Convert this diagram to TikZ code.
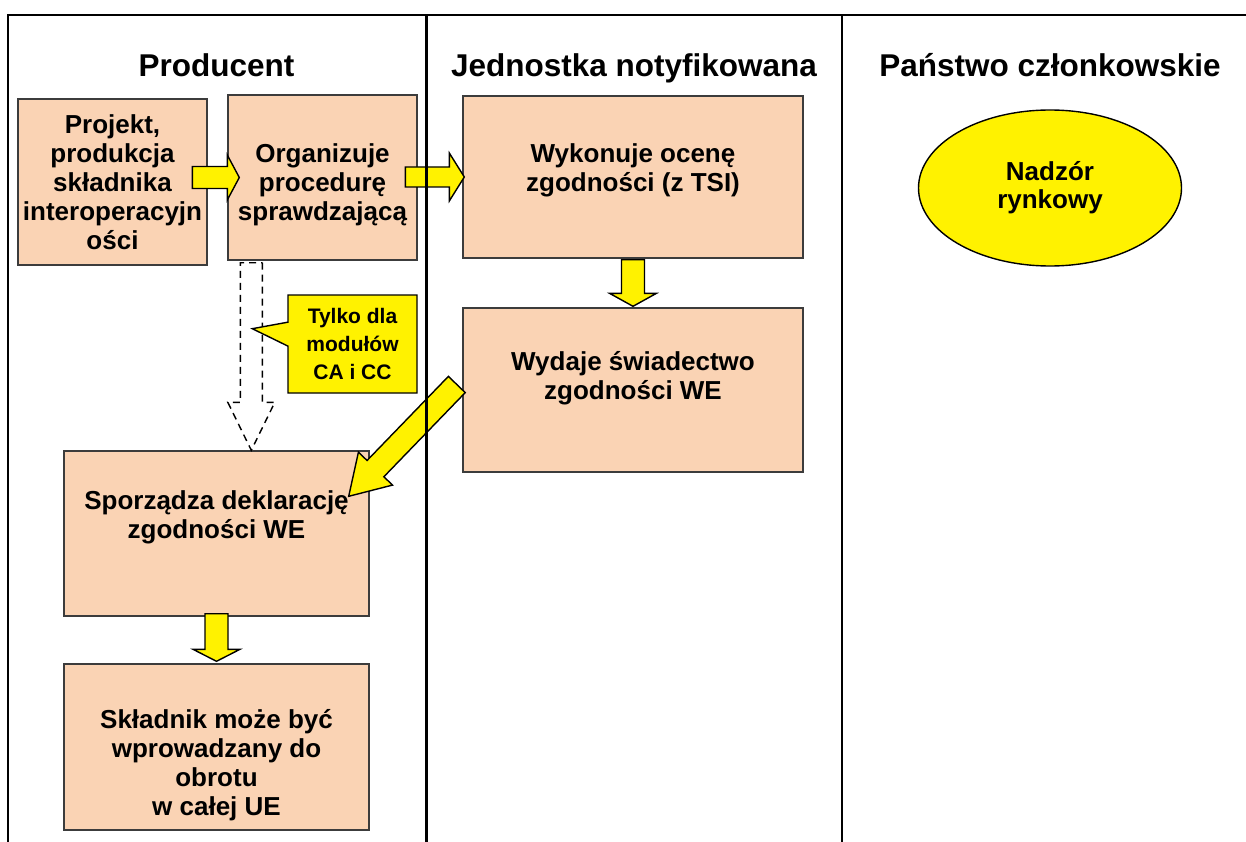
\documentclass[tikz,border=0pt]{standalone}
\usepackage{fontspec}
\setmainfont{Liberation Sans}
\usetikzlibrary{calc,shapes.geometric,shapes.callouts}
\definecolor{peach}{RGB}{250,211,180}
\definecolor{boxline}{RGB}{60,60,60}

% block arrow: [style]{tail}{tip}{shaft half width}{head half width}{head length}
\newcommand{\fatarrow}[6][fatarrow]{%
  \coordinate (fa-b) at ($(#3)!#6!(#2)$);
  \draw[#1] ($(#2)!#4!90:(#3)$) -- ($(fa-b)!#4!90:(#3)$) -- ($(fa-b)!#5!90:(#3)$)
    -- (#3) -- ($(fa-b)!#5!-90:(#3)$) -- ($(fa-b)!#4!-90:(#3)$) -- ($(#2)!#4!-90:(#3)$) -- cycle;}

\begin{document}
\begin{tikzpicture}[x=1pt,y=-1pt,
  box/.style={draw=boxline,line width=1.4pt,fill=peach,inner sep=0pt},
  boxtext/.style={align=center,font=\fontsize{26}{29}\selectfont\bfseries},
  lanetitle/.style={anchor=base,font=\fontsize{31.5}{36}\selectfont\bfseries},
  fatarrow/.style={draw=black,line width=1.4pt,fill=yellow,line join=miter},
  dasharrow/.style={draw=black,line width=1.4pt,dash pattern=on 7pt off 5pt},
  note/.style={rectangle callout,draw=black,line width=1.4pt,fill=yellow,inner sep=0pt,
    minimum width=129pt,minimum height=98pt,callout pointer width=24pt,align=center,
    font=\fontsize{21}{28}\selectfont\bfseries},
  lane/.style={line width=2pt,line join=miter}]
\useasboundingbox (0,0) rectangle (1246,842);

% lane titles
\node[lanetitle] (prodtitle) at (216.5,77) {Producent};
\node[lanetitle] (nbtitle) at (634,77) {Jednostka notyfikowana};
\node[lanetitle] (mstitle) at (1050,77) {Państwo członkowskie};

% Producent
\node[box,minimum width=189pt,minimum height=166pt] (A) at (112.5,182) {};
\node[boxtext] (Atxt) at (A) {Projekt,\\produkcja\\składnika\\interoperacyjn\\ości};
\node[box,minimum width=189pt,minimum height=165pt] (B) at (322.5,177.5) {};
\node[boxtext] (Btxt) at ($(B)+(0,7)$) {Organizuje\\procedurę\\sprawdzającą};
\node[box,minimum width=305pt,minimum height=165pt] (E) at (216.5,533.5) {};
\node[boxtext] (Etxt) at ($(E)+(0,-16)$) {Sporządza deklarację\\zgodności WE};
\node[box,minimum width=305pt,minimum height=166pt] (F) at (216.5,747) {};
\node[boxtext] (Ftxt) at ($(F)+(0,18)$) {Składnik może być\\wprowadzany do\\obrotu\\w całej UE};

% Jednostka notyfikowana
\node[box,minimum width=340pt,minimum height=162pt] (C) at (633,177) {};
\node[boxtext] (Ctxt) at ($(C)+(0,-7)$) {Wykonuje ocenę\\zgodności (z TSI)};
\node[box,minimum width=340pt,minimum height=164pt] (D) at (633,390) {};
\node[boxtext] (Dtxt) at ($(D)+(0,-12)$) {Wydaje świadectwo\\zgodności WE};

% Panstwo czlonkowskie
\node[ellipse,draw=black,line width=1.4pt,fill=yellow,inner sep=0pt,minimum width=263pt,
  minimum height=156pt,align=center,font=\fontsize{26}{28}\selectfont\bfseries] (MS) at (1050,188) {Nadzór\\rynkowy};

% yellow arrows
\coordinate (ab-tail) at ($(B.west)+(-35,0)$);
\coordinate (ab-tip) at ($(B.west)+(12,0)$);
\fatarrow{ab-tail}{ab-tip}{11pt}{22.5pt}{12pt}
\coordinate (bc-tail) at ($(C.west)+(-57,0)$);
\coordinate (bc-tip) at ($(C.west)+(2,0)$);
\fatarrow{bc-tail}{bc-tip}{10pt}{24pt}{15pt}
\coordinate (cd-tail) at ($(C.south)+(0,1)$);
\coordinate (cd-tip) at ($(D.north)+(0,-1)$);
\fatarrow{cd-tail}{cd-tip}{11.5pt}{23.5pt}{13pt}
\coordinate (de-tail) at ($(D.west)+(-5.5,-5.5)$);
\coordinate (de-tip) at ($(E.north east)+(-21,46)$);
\fatarrow{de-tail}{de-tip}{11.7pt}{23.7pt}{38.5pt}
\coordinate (ef-tail) at ($(E.south)+(0,-3)$);
\coordinate (ef-tip) at ($(F.north)+(0,-2)$);
\fatarrow{ef-tail}{ef-tip}{11.5pt}{23.5pt}{12pt}

% dashed arrow and note
\coordinate (dtail) at ($(B.south west)+(24,2)$);
\coordinate (dtip) at (dtail |- E.north);
\fatarrow[dasharrow]{dtail}{dtip}{11pt}{23.5pt}{48pt}
\coordinate (notetip) at ($(dtail)+(1,66)$);
\node[note,callout absolute pointer={(notetip)}] (note) at (352.5,344) {Tylko dla\\modułów\\CA i CC};

% lanes
\draw[lane] (8,842) -- (8,15) -- (1246,15);
\draw[lane,line width=3pt] (426,15) -- (426,842);
\draw[lane] (842,15) -- (842,842);
\end{tikzpicture}
\end{document}
